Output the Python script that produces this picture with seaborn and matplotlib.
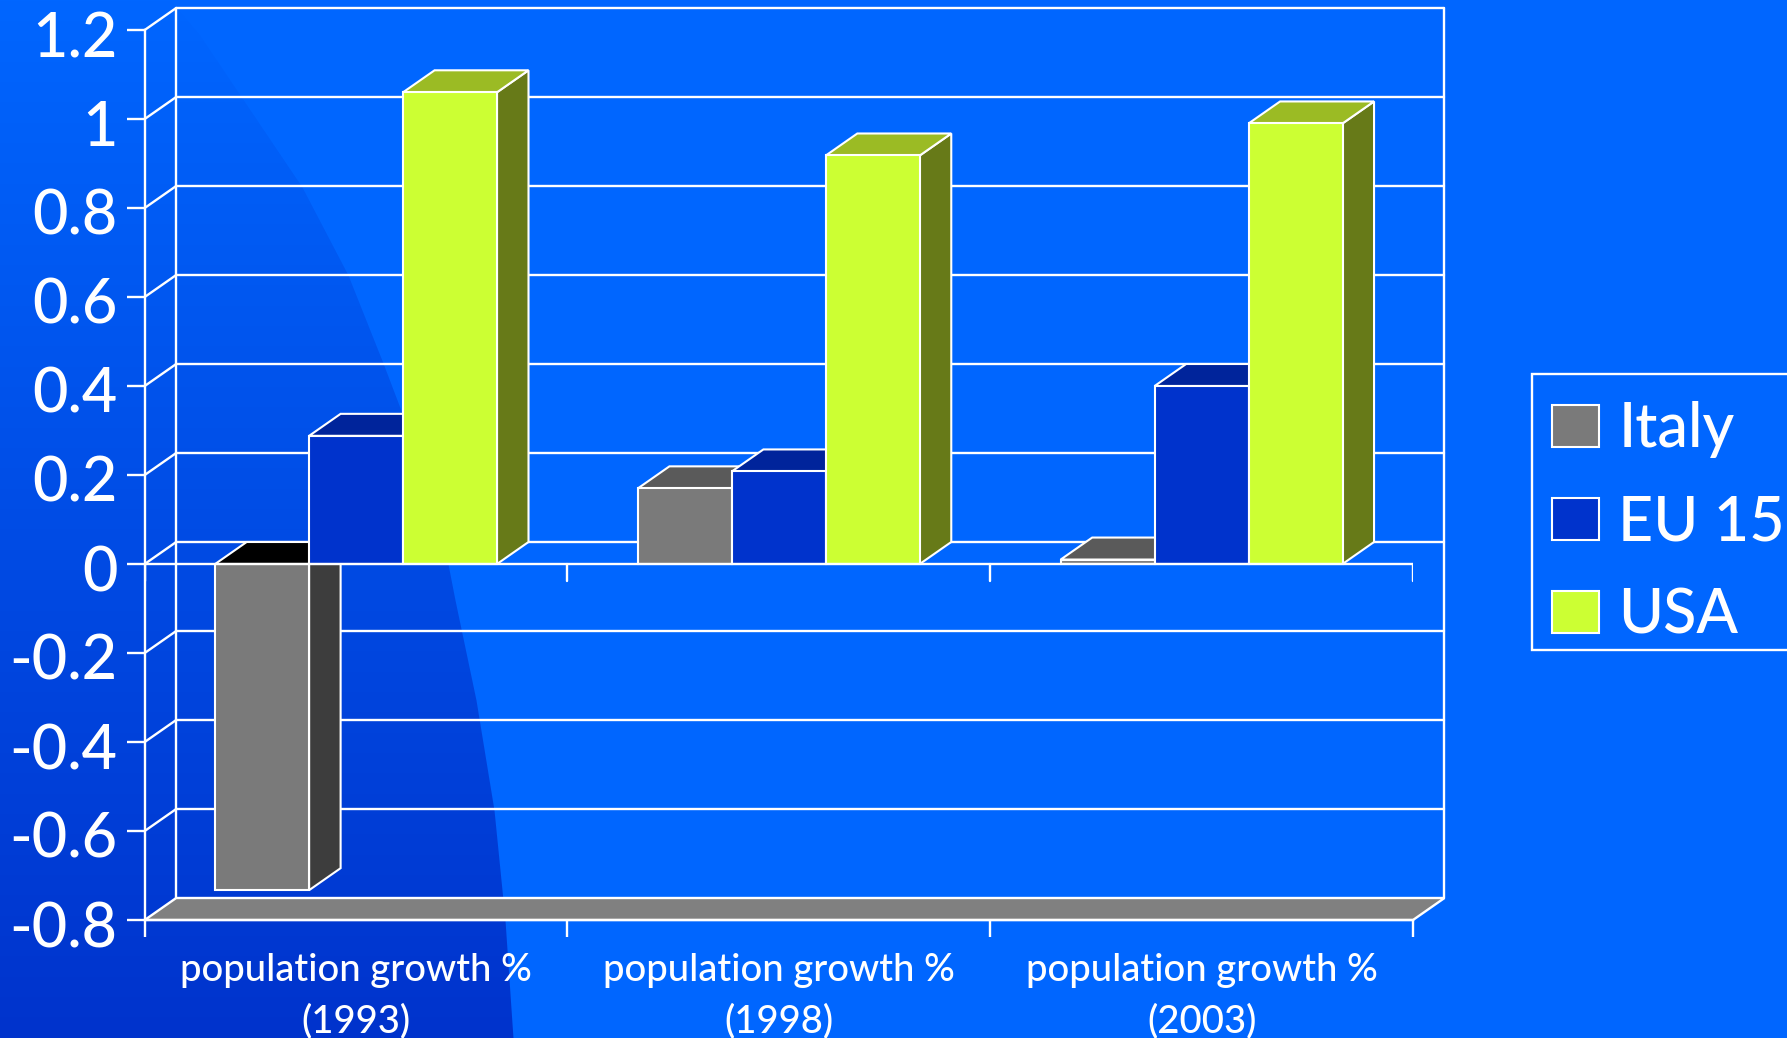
import numpy as np
import pandas as pd
import matplotlib
matplotlib.use("Agg")
import matplotlib.pyplot as plt
from matplotlib.patches import Polygon, Patch, Rectangle
from matplotlib.transforms import Affine2D
import seaborn as sns

categories = ["population growth %\n(1993)", "population growth %\n(1998)", "population growth %\n(2003)"]
series_names = ["Italy", "EU 15", "USA"]
italy = [-0.733, 0.17, 0.01]
eu15 = [0.288, 0.208, 0.40]
usa = [1.06, 0.918, 0.99]
y_ticks = [1.2, 1.0, 0.8, 0.6, 0.4, 0.2, 0.0, -0.2, -0.4, -0.6, -0.8]
y_tick_labels = ["1.2", "1", "0.8", "0.6", "0.4", "0.2", "0", "-0.2", "-0.4", "-0.6", "-0.8"]

front_colors = ["#7A7A7A", "#0033CC", "#CCFF33"]
top_colors = ["#5A5A5A", "#00249B", "#9BBB24"]
side_colors = ["#3D3D3D", "#001F80", "#677A18"]
WHITE = "#FFFFFF"
W, H = 1787, 1038
FONT = ["Lato", "DejaVu Sans"]

sns.set_theme(style="white")
plt.rcParams["font.family"] = FONT
plt.rcParams["font.weight"] = "medium"

fig = plt.figure(figsize=(W / 100, H / 100), dpi=100)

# background: vertical gradient inside a curved swoosh on a flat blue field
bg = fig.add_axes([0, 0, 1, 1], zorder=-5)
bg.axis("off")
yy, xx = np.mgrid[0:H, 0:W]
edge_y = [0, 34, 187, 275, 363, 413, 564, 600, 700, 810, 920, 1038]
edge_x = [170, 199, 302, 348, 383, 402, 448, 455, 476, 494, 505, 513]
edge = np.interp(yy, edge_y, edge_x)
mask = np.clip(edge - xx + 0.5, 0, 1)
t = yy / (H - 1)
flat = np.array([0x00, 0x66, 0xFF]) / 255
dark = np.array([0x00, 0x33, 0xCC]) / 255
grad = flat[None, None, :] * (1 - t[..., None]) + dark[None, None, :] * t[..., None]
img = flat[None, None, :] * (1 - mask[..., None]) + grad * mask[..., None]
bg.imshow(img, aspect="auto", extent=(0, W, H, 0), interpolation="nearest")

# front plane of the chart
L, R, T, B = 144.7, 1413.0, 30.0, 920.0
ax = fig.add_axes([L / W, (H - B) / H, (R - L) / W, (B - T) / H], zorder=1)
ax.patch.set_alpha(0)

df = pd.DataFrame({
    "category": categories * 3,
    "series": sum([[s] * 3 for s in series_names], []),
    "value": italy + eu15 + usa,
})
sns.barplot(data=df, x="category", y="value", hue="series", hue_order=series_names,
            palette=front_colors, width=2 / 3, gap=0, saturation=1, errorbar=None,
            edgecolor=WHITE, linewidth=1.5, legend=False, ax=ax)

ax.set_xlim(-0.5, 2.5)
ax.set_ylim(-0.8, 1.2)
ax.set_xlabel("")
ax.set_ylabel("")

# depth of the pseudo-3D box, converted to data units through the axes scale
DX = 31.5 / ((R - L) / 3)
DY = 22.0 / ((B - T) / 2.0)
LW = 1.7
xmin, xmax = ax.get_xlim()
ymin, ymax = ax.get_ylim()
boundaries = np.arange(xmin, xmax + 0.5)

# walls and floor
for y in y_ticks[:-1]:
    ax.plot([xmin + DX, xmax + DX], [y + DY, y + DY], color=WHITE, lw=LW, zorder=1.2, clip_on=False)
    ax.plot([xmin, xmin + DX], [y, y + DY], color=WHITE, lw=LW, zorder=1.2, clip_on=False)
ax.plot([xmin + DX, xmin + DX], [ymin + DY, ymax + DY], color=WHITE, lw=LW, zorder=1.2, clip_on=False)
ax.plot([xmax + DX, xmax + DX], [ymin + DY, ymax + DY], color=WHITE, lw=LW, zorder=1.2, clip_on=False)
ax.add_patch(Polygon([(xmin, ymin), (xmin + DX, ymin + DY), (xmax + DX, ymin + DY), (xmax, ymin)],
                     closed=True, facecolor="#808080", edgecolor=WHITE, lw=LW, zorder=1.3, clip_on=False))

# extruded faces, built from the bars seaborn drew
for i, container in enumerate(ax.containers):
    for bar in container:
        x0, x1 = bar.get_x(), bar.get_x() + bar.get_width()
        y0, y1 = bar.get_y(), bar.get_y() + bar.get_height()
        lo, hi = min(y0, y1), max(y0, y1)
        top_c = "#000000" if y1 < 0 else top_colors[i]
        z = 2 + i
        ax.add_patch(Polygon([(x1, lo), (x1 + DX, lo + DY), (x1 + DX, hi + DY), (x1, hi)], closed=True,
                             facecolor=side_colors[i], edgecolor=WHITE, lw=1.5, zorder=z, clip_on=False))
        ax.add_patch(Polygon([(x0, hi), (x0 + DX, hi + DY), (x1 + DX, hi + DY), (x1, hi)], closed=True,
                             facecolor=top_c, edgecolor=WHITE, lw=1.5, zorder=z, clip_on=False))
        bar.set_zorder(z + 0.5)
        bar.set_clip_on(False)

# axes lines and ticks
for side in ["top", "right"]:
    ax.spines[side].set_visible(False)
for side in ["left", "bottom"]:
    ax.spines[side].set_color(WHITE)
    ax.spines[side].set_linewidth(LW)
    ax.spines[side].set_zorder(8)
ax.axhline(0, color=WHITE, lw=LW, zorder=8)
ax.set_yticks(y_ticks)
ax.set_yticklabels(y_tick_labels)
ax.tick_params(axis="y", left=True, length=12.7, width=LW, color=WHITE, pad=7,
               labelcolor=WHITE, labelsize=44)
for lbl in ax.get_yticklabels():
    lbl.set_transform(lbl.get_transform() + Affine2D().translate(0, -4))
ax.set_xticks(range(len(categories)))
ax.set_xticklabels(categories, linespacing=1.52)
ax.tick_params(axis="x", which="major", bottom=False, length=0, pad=24, labelcolor=WHITE, labelsize=27.5)
ax.set_xticks(boundaries, minor=True)
ax.tick_params(axis="x", which="minor", bottom=True, length=12.2, width=LW, color=WHITE)
tick_h = 12.2 / 0.72 / ((B - T) / 2.0)
for b in boundaries:
    ax.plot([b, b], [0, -tick_h], color=WHITE, lw=LW, zorder=1.25)

# legend frame runs off the right edge, as in the source slide
fig.add_artist(Rectangle((1532 / W, 1 - 650 / H), 300 / W, 276 / H, transform=fig.transFigure,
                         facecolor="#0066FF", edgecolor=WHITE, lw=LW, zorder=2))
handles = [Patch(facecolor=c, edgecolor=WHITE, linewidth=1.5, label=s) for c, s in zip(front_colors, series_names)]
leg = fig.legend(handles=handles, loc="upper left", bbox_to_anchor=(1532 / W, 1 - 381 / H),
                 bbox_transform=fig.transFigure, fontsize=44, frameon=False,
                 borderaxespad=0, borderpad=0.33, handlelength=0.77, handleheight=0.69,
                 handletextpad=0.31, labelspacing=0.59, labelcolor=WHITE)
leg.set_zorder(3)

fig.savefig("out.png", dpi=100)
